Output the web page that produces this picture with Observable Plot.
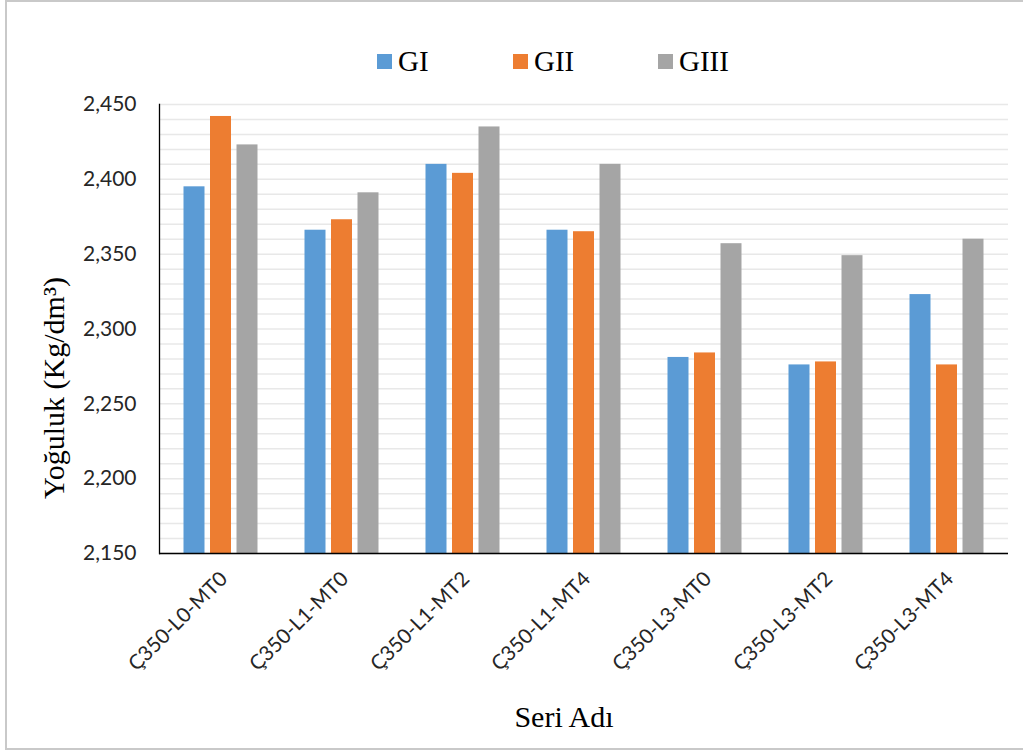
<!DOCTYPE html>
<html><head><meta charset="utf-8">
<script src="https://cdn.jsdelivr.net/npm/d3@7"></script>
<script src="https://cdn.jsdelivr.net/npm/@observablehq/plot@0.6"></script>
<style>
body{margin:0;background:#fff}
#wrap{position:relative;width:1023px;height:753px;overflow:hidden;background:#fff}
#border{position:absolute;left:5px;top:0;width:1040px;height:750px;border:2px solid #c9c9c9;box-sizing:border-box;pointer-events:none;z-index:2}
#legend{position:relative;height:90px}
.item{position:absolute;top:45px;height:33px;line-height:33px;display:flex;align-items:center;font-family:"Liberation Serif",serif;font-size:29px;color:#000;white-space:nowrap}
.sw{width:15px;height:15px;margin-right:6px;display:inline-block}
svg{display:block}
</style></head>
<body>
<div id="wrap"><div id="border"></div><div id="legend"></div><div id="chart"></div></div>
<script>
const categories = ["Ç350-L0-MT0","Ç350-L1-MT0","Ç350-L1-MT2","Ç350-L1-MT4","Ç350-L3-MT0","Ç350-L3-MT2","Ç350-L3-MT4"];
const series = ["GI","GII","GIII"];
const gI   = [2395, 2366, 2410, 2366, 2281, 2276, 2323];
const gII  = [2442, 2373, 2404, 2365, 2284, 2278, 2276];
const gIII = [2423, 2391, 2435, 2410, 2357, 2349, 2360];
const yTicks = [2150, 2200, 2250, 2300, 2350, 2400, 2450];
const gridStep = 10;
const colors = ["#5b9bd5", "#ed7d31", "#a5a5a5"];
const yTitle = "Yoğuluk (Kg/dm³)";
const xTitle = "Seri Adı";

const values = [gI, gII, gIII];
const yDomain = [yTicks[0], yTicks[yTicks.length-1]];
const gridTicks = d3.range(yDomain[0], yDomain[1] + 1, gridStep);
const data = categories.flatMap((c, i) => series.map((s, j) => ({cat: c, series: s, value: values[j][i]})));

// legend
const legendX = [377, 513, 658];
const lg = document.getElementById("legend");
series.forEach((s, j) => {
  const it = document.createElement("div");
  it.className = "item";
  it.style.left = legendX[j] + "px";
  it.innerHTML = `<span class="sw" style="background:${colors[j]}"></span><span>${s}</span>`;
  lg.appendChild(it);
});

const font = "Lato, 'Open Sans', sans-serif";
const chart = Plot.plot({
  width: 1023,
  height: 663,
  marginTop: 14,
  marginBottom: 200,
  marginLeft: 159,
  marginRight: 15,
  style: {background: "transparent", color: "#262626", fontFamily: font, overflow: "visible"},
  x: {domain: categories, paddingInner: 0.8264, paddingOuter: 0.413, axis: null},
  y: {domain: yDomain, axis: null},
  marks: [
    Plot.gridY(gridTicks, {stroke: "#e8e8e8", strokeOpacity: 1, strokeWidth: 1.5}),
    ...series.map((s, j) => Plot.barY(data.filter(d => d.series === s), {
      x: "cat", y1: yDomain[0], y2: "value", fill: colors[j], dx: (j - 1) * 26.5
    })),
    Plot.ruleY([yDomain[0]], {stroke: "#000", strokeWidth: 1.3}),
    Plot.frame({anchor: "left", stroke: "#000", strokeWidth: 1.3}),
    Plot.axisY(yTicks, {tickSize: 0, tickPadding: 23, tickFormat: d3.format(","), fontSize: 21, label: null}),
    Plot.axisX({tickRotate: -45, tickSize: 0, tickPadding: 22, fontSize: 20.5, label: null, dx: 3}),
    Plot.text([yTitle], {frameAnchor: "left", rotate: -90, textAnchor: "middle", lineAnchor: "middle", dx: -105, dy: 59, fontSize: 30, fontFamily: "Liberation Serif", fill: "#000"}),
    Plot.text([xTitle], {frameAnchor: "bottom", textAnchor: "middle", lineAnchor: "middle", dx: -20, dy: 164, fontSize: 30, fontFamily: "Liberation Serif", fill: "#000"})
  ]
});
document.getElementById("chart").appendChild(chart);
</script>
</body></html>
